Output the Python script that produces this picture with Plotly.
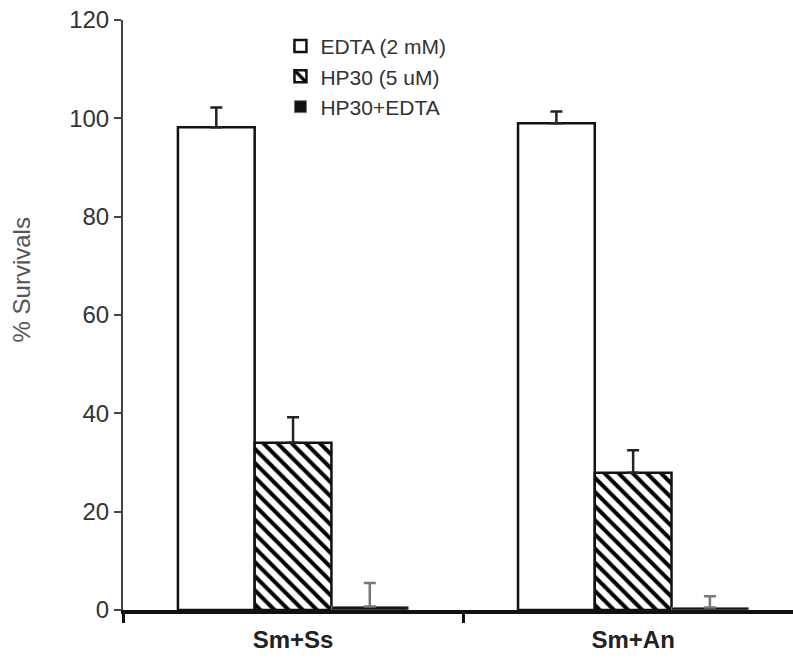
import plotly.graph_objects as go

categories = ["Sm+Ss", "Sm+An"]
series_names = ["EDTA (2 mM)", "HP30 (5 uM)", "HP30+EDTA"]
edta_vals = [98.2, 99.0]
edta_err = [4.0, 2.4]
hp30_vals = [34.0, 27.9]
hp30_err = [5.2, 4.6]
combo_vals = [0.7, 0.5]
combo_err = [4.8, 2.3]
y_ticks = [0, 20, 40, 60, 80, 100, 120]

FONT = "Liberation Sans, Arial, sans-serif"

fig = go.Figure()

fig.add_trace(go.Bar(
    name=series_names[0], x=categories, y=edta_vals,
    marker=dict(color="white", line=dict(color="#111", width=2.5)),
    error_y=dict(type="data", symmetric=False, array=edta_err, arrayminus=[0, 0],
                 color="#222", thickness=2.5, width=6),
))
fig.add_trace(go.Bar(
    name=series_names[1], x=categories, y=hp30_vals,
    marker=dict(color="white", line=dict(color="#111", width=2.5),
                pattern=dict(shape="\\", fillmode="overlay", fgcolor="#000", fgopacity=1,
                             size=10, solidity=0.4)),
    error_y=dict(type="data", symmetric=False, array=hp30_err, arrayminus=[0, 0],
                 color="#222", thickness=2.5, width=6),
))
fig.add_trace(go.Bar(
    name=series_names[2], x=categories, y=combo_vals,
    marker=dict(color="#111", line=dict(color="#777", width=1)),
    error_y=dict(type="data", symmetric=False, array=combo_err, arrayminus=[0, 0],
                 color="#777", thickness=2.5, width=6),
))

fig.update_layout(
    width=793, height=660,
    margin=dict(l=123, r=0, t=20, b=50),
    paper_bgcolor="white", plot_bgcolor="white",
    barmode="group", bargap=0.323, bargroupgap=0,
    font=dict(family=FONT, color="#333"),
    showlegend=True,
    legend=dict(x=0.235, y=0.99, xanchor="left", yanchor="top",
                font=dict(size=21, color="#333"), bgcolor="rgba(0,0,0,0)",
                tracegroupgap=0, itemwidth=30),
    xaxis=dict(type="category", range=[-0.5, 1.47], tickson="boundaries",
               tickvals=categories, ticktext=["<b>%s</b>" % c for c in categories],
               ticks="outside", ticklen=9, tickwidth=2.5, tickcolor="#111",
               ticklabelstandoff=5,
               showline=True, linecolor="#111", linewidth=3.5,
               tickfont=dict(size=24, color="#222", family=FONT),
               showgrid=False, zeroline=False),
    yaxis=dict(range=[0, 120], tickvals=y_ticks, ticks="outside", ticklen=7, tickwidth=2,
               tickcolor="#444", showline=True, linecolor="#444", linewidth=2,
               tickfont=dict(size=24, color="#333"), showgrid=False, zeroline=False),
    annotations=[dict(text="% Survivals", xref="paper", yref="paper", x=-0.151, y=0.56,
                      xanchor="center", yanchor="middle", textangle=-90, showarrow=False,
                      font=dict(size=24, color="#555"))],
)

fig.write_html("out.html")
